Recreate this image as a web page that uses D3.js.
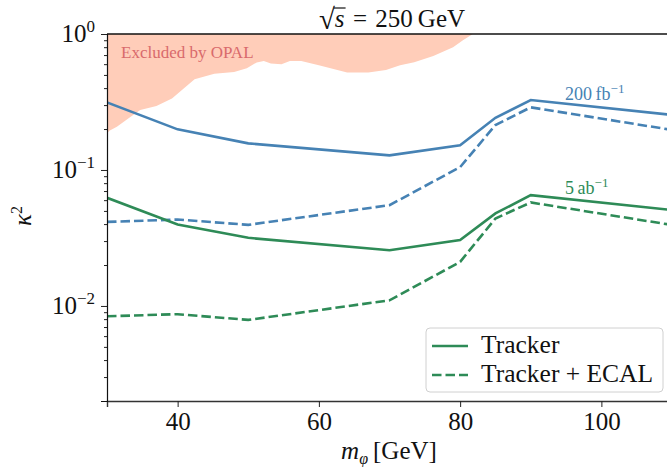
<!DOCTYPE html>
<html lang="en">
<head>
<meta charset="UTF-8">
<title>kappa^2 reach</title>
<style>
  body { margin: 0; background: #fff; }
  svg, svg text, svg tspan { font-family: "Liberation Serif", "Times New Roman", serif !important; }
</style>
</head>
<body>
<script src="https://d3js.org/d3.v7.min.js"></script>
<script>
// scalar mass points (GeV)
var mass = [30, 40, 50, 70, 80, 85, 90, 110];
// 200 fb^-1
var blueTracker     = [0.314, 0.199, 0.157, 0.128, 0.152, 0.242, 0.327, 0.254];
var blueTrackerEcal = [0.0415, 0.0432, 0.0395, 0.0551, 0.105, 0.214, 0.289, 0.197];
// 5 ab^-1
var greenTracker     = [0.0624, 0.0397, 0.0317, 0.0257, 0.0305, 0.0479, 0.0653, 0.0508];
var greenTrackerEcal = [0.0084, 0.0087, 0.0079, 0.0110, 0.0211, 0.0440, 0.0577, 0.0394];
// OPAL exclusion boundary
var opalMass  = [30, 30.4, 31.4, 33.5, 34.7, 37.0, 39.2, 42.4, 45.2, 48.0, 49.8, 51.2, 52.2, 53.2, 54.7, 55.9, 57.5, 60.0, 64.0, 67.0, 69.5, 71.5, 73.5, 76.2, 79.0, 80.4, 81.8];
var opalKappa = [0.186, 0.195, 0.208, 0.249, 0.276, 0.295, 0.336, 0.464, 0.51, 0.525, 0.56, 0.618, 0.633, 0.608, 0.598, 0.633, 0.633, 0.59, 0.522, 0.522, 0.543, 0.59, 0.62, 0.69, 0.80, 0.90, 1.0];
var xTicks = [40, 60, 80, 100];
var yMajor = [1e-2, 1e-1, 1];
var yExp = ["\u22122", "\u22121", "0"];

var BLUE = "#4682b4", GREEN = "#2e8b57";
var FONT = "Liberation Serif, serif";
var W = 667, H = 467;
var L = 107, R = 672, T = 34, B = 401;

var svg = d3.select("body").append("svg")
    .attr("width", W).attr("height", H)
    .attr("font-family", FONT);

var x = d3.scaleLinear().domain([30, 110]).range([L, R]);
var y = d3.scaleLog().domain([0.002, 1]).range([B, T]);

svg.append("clipPath").attr("id", "plotclip")
  .append("rect").attr("x", L).attr("y", T).attr("width", R - L).attr("height", B - T);

var plot = svg.append("g").attr("clip-path", "url(#plotclip)");

// OPAL region
var area = d3.area()
    .x(function(d) { return x(d[0]); })
    .y0(y(1))
    .y1(function(d) { return y(d[1]); });
plot.append("path")
    .datum(d3.zip(opalMass, opalKappa))
    .attr("d", area)
    .attr("fill", "#ffcdb9");
svg.append("text").attr("x", 121).attr("y", 58)
    .attr("font-family", FONT).attr("font-size", 17).attr("fill", "#d96a6c")
    .text("Excluded by OPAL");

// curves
var line = d3.line()
    .x(function(d) { return x(d[0]); })
    .y(function(d) { return y(d[1]); });
var curves = [
  { v: blueTracker, c: BLUE, dash: null },
  { v: blueTrackerEcal, c: BLUE, dash: "9.5,4" },
  { v: greenTracker, c: GREEN, dash: null },
  { v: greenTrackerEcal, c: GREEN, dash: "9.5,4" }
];
curves.forEach(function(s) {
  plot.append("path")
      .datum(d3.zip(mass, s.v))
      .attr("d", line)
      .attr("fill", "none")
      .attr("stroke", s.c)
      .attr("stroke-width", 2.6)
      .attr("stroke-dasharray", s.dash);
});

// curve labels
function lumiLabel(xp, yp, num, unit, col) {
  var t = svg.append("text").attr("x", xp).attr("y", yp)
      .attr("font-family", FONT).attr("font-size", 18).attr("fill", col);
  t.append("tspan").text(num + "\u2009" + unit);
  t.append("tspan").attr("dy", -7).attr("font-size", 13).text("\u22121");
}
lumiLabel(565, 100, "200", "fb", BLUE);
lumiLabel(565, 194, "5", "ab", GREEN);

// axes
var xAxis = svg.append("g").attr("transform", "translate(0," + B + ")")
    .call(d3.axisBottom(x).tickValues(xTicks).tickSize(6).tickPadding(5).tickFormat(d3.format("d")));
xAxis.attr("font-family", FONT).attr("font-size", 25);
xAxis.select(".domain").attr("stroke", "#333").attr("stroke-width", 1.4);
xAxis.selectAll(".tick line").attr("stroke", "#333").attr("stroke-width", 1);
xAxis.selectAll(".tick text").attr("fill", "#111").attr("font-family", FONT).attr("font-size", 25);

var minor = [];
[1e-3, 1e-2, 1e-1].forEach(function(p) {
  for (var k = 2; k <= 9; k++) {
    var v = k * p;
    if (v >= 0.002 && v <= 1) minor.push(v);
  }
});
var yAxisMinor = svg.append("g").attr("transform", "translate(" + L + ",0)")
    .call(d3.axisLeft(y).tickValues(minor).tickSize(3).tickFormat(""));
yAxisMinor.select(".domain").remove();
var yAxis = svg.append("g").attr("transform", "translate(" + L + ",0)")
    .call(d3.axisLeft(y).tickValues(yMajor).tickSize(6).tickFormat(""));
yAxis.select(".domain").attr("stroke", "#111").attr("stroke-width", 1.2);
svg.selectAll(".tick line").attr("stroke", "#222");

yMajor.forEach(function(v, i) {
  var t = svg.append("text").attr("x", 95).attr("y", y(v) + 8)
      .attr("text-anchor", "end").attr("font-family", FONT).attr("font-size", 25).attr("fill", "#111");
  t.append("tspan").text("10");
  t.append("tspan").attr("dy", -10).attr("font-size", 17).text(yExp[i]);
});

// top spine
svg.append("line").attr("x1", L).attr("x2", W).attr("y1", T).attr("y2", T)
    .attr("stroke", "#111").attr("stroke-width", 1.3);

// axis labels
var xl = svg.append("text").attr("x", 389).attr("y", 459)
    .attr("text-anchor", "middle").attr("font-family", FONT).attr("font-size", 25).attr("fill", "#111");
xl.append("tspan").attr("font-style", "italic").text("m");
xl.append("tspan").attr("dy", 5).attr("font-size", 16).attr("font-style", "italic").text("\u03c6");
xl.append("tspan").attr("dy", -5).text("\u2009[GeV]");

var yl = svg.append("text")
    .attr("transform", "translate(31,216) rotate(-90)")
    .attr("text-anchor", "middle").attr("font-family", FONT).attr("font-size", 25).attr("fill", "#111");
yl.append("tspan").attr("font-style", "italic").text("\u03ba");
yl.append("tspan").attr("dy", -9).attr("font-size", 16).text("2");

// title: sqrt(s) = 250 GeV
var tg = svg.append("g").attr("font-family", FONT).attr("fill", "#111");
var t1 = tg.append("text").attr("y", 29).attr("font-size", 29).text("\u221a");
var t2 = tg.append("text").attr("y", 27).attr("font-size", 25).attr("font-style", "italic").text("s");
var t3 = tg.append("text").attr("y", 27).attr("font-size", 25).text("\u2004=\u2004250\u2009GeV");
var w1 = t1.node().getComputedTextLength();
var w2 = t2.node().getComputedTextLength();
var w3 = t3.node().getComputedTextLength();
var x0 = 392 - (w1 + w2 + w3) / 2;
t1.attr("x", x0);
t2.attr("x", x0 + w1);
t3.attr("x", x0 + w1 + w2);
tg.append("line").attr("x1", x0 + w1 - 1).attr("x2", x0 + w1 + w2 + 1)
    .attr("y1", 8).attr("y2", 8).attr("stroke", "#111").attr("stroke-width", 1.2);

// legend
var lg = svg.append("g");
lg.append("rect").attr("x", 426).attr("y", 328).attr("width", 237).attr("height", 64)
    .attr("rx", 4).attr("fill", "#fff").attr("fill-opacity", 0.85)
    .attr("stroke", "#d0d0d0").attr("stroke-width", 1);
var legendItems = [
  { name: "Tracker", dash: null, ly: 346 },
  { name: "Tracker + ECAL", dash: "9.5,4", ly: 375 }
];
legendItems.forEach(function(it) {
  lg.append("line").attr("x1", 432).attr("x2", 468).attr("y1", it.ly).attr("y2", it.ly)
      .attr("stroke", GREEN).attr("stroke-width", 2.6).attr("stroke-dasharray", it.dash);
  lg.append("text").attr("x", 481).attr("y", it.ly + 7)
      .attr("font-family", FONT).attr("font-size", 25.5).attr("fill", "#111").text(it.name);
});
</script>
</body>
</html>
